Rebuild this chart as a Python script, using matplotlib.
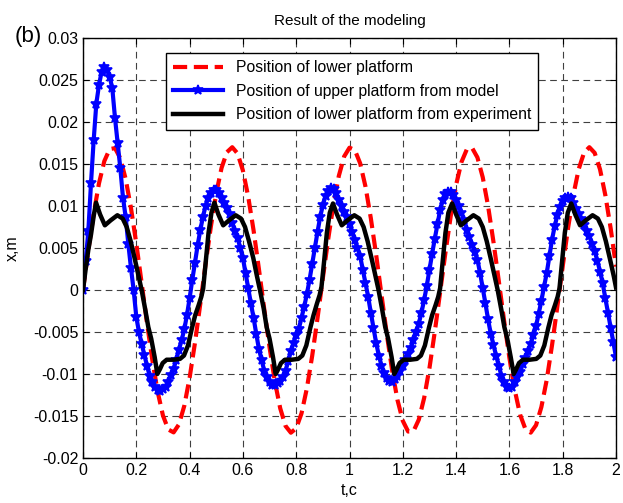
import numpy as np
import matplotlib
matplotlib.use("Agg")
import matplotlib.pyplot as plt

plt.rcParams['font.family'] = ['Liberation Sans', 'DejaVu Sans']

# lower platform (input), sampled every 0.02 s
t_lower = np.linspace(0, 2, 101)
x_lower = [
    0.0, 0.00472, 0.00906, 0.01270, 0.01534, 0.01677, 0.01689, 0.01568, 0.01323, 0.00976,
    0.00553, 0.00084, -0.00390, -0.00831, -0.01209, -0.01494, -0.01661, -0.01695, -0.01600, -0.01380,
    -0.01046, -0.00632, -0.00168, 0.00308, 0.00759, 0.01153, 0.01454, 0.01641, 0.01700, 0.01625,
    0.01423, 0.01110, 0.00711, 0.00252, -0.00225, -0.00683, -0.01090, -0.01408, -0.01619, -0.01699,
    -0.01647, -0.01468, -0.01171, -0.00784, -0.00335, 0.00141, 0.00605, 0.01022, 0.01359, 0.01590,
    0.01694, 0.01666, 0.01508, 0.01231, 0.00855, 0.00419, -0.00057, -0.00527, -0.00957, -0.01309,
    -0.01557, -0.01685, -0.01681, -0.01544, -0.01287, -0.00930, -0.00498, -0.00027, 0.00445, 0.00883,
    0.01251, 0.01522, 0.01673, 0.01692, 0.01578, 0.01341, 0.01000, 0.00578, 0.00112, -0.00363,
    -0.00808, -0.01190, -0.01482, -0.01655, -0.01698, -0.01609, -0.01393, -0.01071, -0.00656, -0.00195,
    0.00281, 0.00735, 0.01131, 0.01439, 0.01634, 0.01700, 0.01632, 0.01437, 0.01129, 0.00734,
    0.00279,
]

# upper platform from model, sampled every 0.01 s
t_model = np.linspace(0, 2, 201)
x_model = [
    0.0000, 0.0034, 0.0070, 0.0127, 0.0178, 0.0222, 0.0244, 0.0260, 0.0266, 0.0262,
    0.0254, 0.0240, 0.0205, 0.0175, 0.0145, 0.0110, 0.0087, 0.0055, 0.0026, 0.0000,
    -0.0032, -0.0050, -0.0064, -0.0077, -0.0090, -0.0102, -0.0110, -0.0116, -0.0119, -0.0120,
    -0.0118, -0.0115, -0.0110, -0.0101, -0.0094, -0.0083, -0.0071, -0.0060, -0.0047, -0.0030,
    -0.0010, 0.0012, 0.0032, 0.0053, 0.0071, 0.0087, 0.0100, 0.0110, 0.0116, 0.0119,
    0.0119, 0.0115, 0.0110, 0.0104, 0.0098, 0.0090, 0.0080, 0.0070, 0.0062, 0.0050,
    0.0038, 0.0020, 0.0002, -0.0016, -0.0033, -0.0052, -0.0070, -0.0083, -0.0096, -0.0104,
    -0.0109, -0.0113, -0.0113, -0.0111, -0.0108, -0.0104, -0.0096, -0.0085, -0.0073, -0.0063,
    -0.0053, -0.0046, -0.0033, -0.0020, -0.0005, 0.0012, 0.0031, 0.0050, 0.0069, 0.0087,
    0.0101, 0.0112, 0.0118, 0.0121, 0.0120, 0.0115, 0.0107, 0.0100, 0.0093, 0.0087,
    0.0078, 0.0069, 0.0059, 0.0050, 0.0040, 0.0024, 0.0008, -0.0008, -0.0027, -0.0045,
    -0.0063, -0.0078, -0.0090, -0.0099, -0.0105, -0.0108, -0.0109, -0.0106, -0.0102, -0.0097,
    -0.0090, -0.0083, -0.0076, -0.0069, -0.0060, -0.0050, -0.0040, -0.0027, -0.0012, 0.0005,
    0.0024, 0.0043, 0.0061, 0.0078, 0.0095, 0.0107, 0.0114, 0.0117, 0.0117, 0.0113,
    0.0107, 0.0100, 0.0092, 0.0083, 0.0072, 0.0063, 0.0054, 0.0045, 0.0036, 0.0020,
    0.0002, -0.0016, -0.0035, -0.0052, -0.0065, -0.0078, -0.0090, -0.0102, -0.0110, -0.0116,
    -0.0117, -0.0115, -0.0110, -0.0104, -0.0098, -0.0088, -0.0081, -0.0073, -0.0064, -0.0054,
    -0.0043, -0.0028, -0.0013, 0.0004, 0.0020, 0.0040, 0.0060, 0.0076, 0.0089, 0.0099,
    0.0106, 0.0110, 0.0111, 0.0109, 0.0103, 0.0096, 0.0090, 0.0084, 0.0077, 0.0070,
    0.0064, 0.0055, 0.0046, 0.0035, 0.0022, 0.0008, -0.0010, -0.0027, -0.0045, -0.0062,
    -0.0080,
]

# lower platform from experiment
t_exp = [
    0.000, 0.010, 0.020, 0.030, 0.040, 0.049, 0.064, 0.082, 0.104, 0.129,
    0.149, 0.164, 0.179, 0.195, 0.209, 0.220, 0.234, 0.245, 0.256, 0.269,
    0.279, 0.289, 0.299, 0.314, 0.339, 0.364, 0.379, 0.394, 0.409, 0.421,
    0.434, 0.444, 0.451, 0.461, 0.471, 0.482,
    0.493, 0.508, 0.526, 0.548, 0.573, 0.593, 0.608, 0.623, 0.639, 0.653,
    0.664, 0.678, 0.689, 0.700, 0.713, 0.723, 0.733, 0.743, 0.758, 0.783,
    0.808, 0.823, 0.838, 0.853, 0.865, 0.878, 0.888, 0.895, 0.905, 0.915,
    0.926,
    0.938, 0.953, 0.971, 0.993, 1.018, 1.038, 1.053, 1.068, 1.084, 1.098,
    1.109, 1.123, 1.134, 1.145, 1.158, 1.168, 1.178, 1.188, 1.203, 1.228,
    1.253, 1.268, 1.283, 1.298, 1.310, 1.323, 1.333, 1.340, 1.350, 1.360,
    1.371,
    1.385, 1.400, 1.418, 1.440, 1.465, 1.485, 1.500, 1.515, 1.531, 1.545,
    1.556, 1.570, 1.581, 1.592, 1.605, 1.616, 1.626, 1.636, 1.651, 1.676,
    1.701, 1.716, 1.731, 1.746, 1.758, 1.771, 1.781, 1.788, 1.798, 1.808,
    1.819,
    1.832, 1.847, 1.865, 1.887, 1.912, 1.932, 1.947, 1.962, 1.978, 1.992,
    2.000,
]
x_exp = [
    0.0000, 0.0025, 0.0048, 0.0066, 0.0088, 0.0104, 0.0090, 0.0077, 0.0083, 0.0089,
    0.0085, 0.0075, 0.0058, 0.0036, 0.0016, 0.0000, -0.0024, -0.0044, -0.0058, -0.0080,
    -0.0100, -0.0094, -0.0087, -0.0083, -0.0083, -0.0082, -0.0078, -0.0066, -0.0045, -0.0030,
    -0.0018, -0.0008, 0.0002, 0.0035, 0.0068, 0.0092,
    0.0104, 0.0090, 0.0077, 0.0083, 0.0089, 0.0085, 0.0075, 0.0058, 0.0038, 0.0016,
    0.0000, -0.0022, -0.0044, -0.0058, -0.0080, -0.0100, -0.0094, -0.0087, -0.0083, -0.0083,
    -0.0082, -0.0078, -0.0066, -0.0045, -0.0030, -0.0016, -0.0006, 0.0004, 0.0035, 0.0068,
    0.0092,
    0.0103, 0.0090, 0.0077, 0.0083, 0.0089, 0.0085, 0.0075, 0.0058, 0.0036, 0.0016,
    0.0000, -0.0024, -0.0044, -0.0058, -0.0080, -0.0100, -0.0094, -0.0087, -0.0083, -0.0083,
    -0.0082, -0.0078, -0.0066, -0.0045, -0.0030, -0.0018, -0.0008, 0.0002, 0.0035, 0.0068,
    0.0092,
    0.0103, 0.0090, 0.0077, 0.0083, 0.0089, 0.0085, 0.0075, 0.0058, 0.0036, 0.0016,
    0.0000, -0.0024, -0.0044, -0.0058, -0.0080, -0.0100, -0.0094, -0.0087, -0.0083, -0.0083,
    -0.0082, -0.0078, -0.0066, -0.0045, -0.0030, -0.0018, -0.0008, 0.0002, 0.0035, 0.0068,
    0.0092,
    0.0103, 0.0090, 0.0077, 0.0083, 0.0089, 0.0085, 0.0075, 0.0058, 0.0036, 0.0016,
    0.0003,
]

x_ticks = [0, 0.2, 0.4, 0.6, 0.8, 1.0, 1.2, 1.4, 1.6, 1.8, 2.0]
x_ticklabels = ['0', '0.2', '0.4', '0.6', '0.8', '1', '1.2', '1.4', '1.6', '1.8', '2']
y_ticks = [-0.02, -0.015, -0.01, -0.005, 0, 0.005, 0.01, 0.015, 0.02, 0.025, 0.03]
y_ticklabels = ['-0.02', '-0.015', '-0.01', '-0.005', '0', '0.005', '0.01',
                '0.015', '0.02', '0.025', '0.03']

fig = plt.figure(figsize=(6.23, 5.03), dpi=100)
ax = fig.add_axes([83/623, 1 - 458/503, (616-83)/623, (458-38)/503])

ax.plot(t_lower, x_lower, color='#ff0000', linewidth=3, dashes=(3.4, 1.6),
        label='Position of lower platform')
ax.plot(t_model, x_model, color='#0000ff', linewidth=3, marker='*', markersize=7,
        markeredgewidth=1.2, label='Position of upper platform from model')
ax.plot(t_exp, x_exp, color='k', linewidth=3.2,
        label='Position of lower platform from experiment')

ax.set_xlim(0, 2)
ax.set_ylim(-0.02, 0.03)
ax.set_xticks(x_ticks)
ax.set_xticklabels(x_ticklabels)
ax.set_yticks(y_ticks)
ax.set_yticklabels(y_ticklabels)
ax.tick_params(direction='in', top=True, right=True, labelsize=11.5, length=4)
ax.grid(True, color='0.25', linestyle=(0, (6, 4)), linewidth=0.8)
for s in ax.spines.values():
    s.set_linewidth(1.0)

ax.set_title('Result of the modeling', fontsize=11, pad=9)
ax.set_xlabel('t,c', fontsize=11.5)
ax.set_ylabel('x,m', fontsize=11.5)
ax.xaxis.set_label_coords(0.5, -0.06)
ax.yaxis.set_label_coords(-0.118, 0.5)

leg = ax.legend(loc='upper left', bbox_to_anchor=(0.156, 0.964), borderaxespad=0,
                fancybox=False, framealpha=1, edgecolor='k', fontsize=11.3,
                handlelength=3.2, labelspacing=0.55, borderpad=0.45)
leg.get_frame().set_linewidth(1.0)

fig.text(0.024, 0.928, '(b)', fontsize=16, va='center', ha='left')

fig.savefig('out.png', dpi=100)
